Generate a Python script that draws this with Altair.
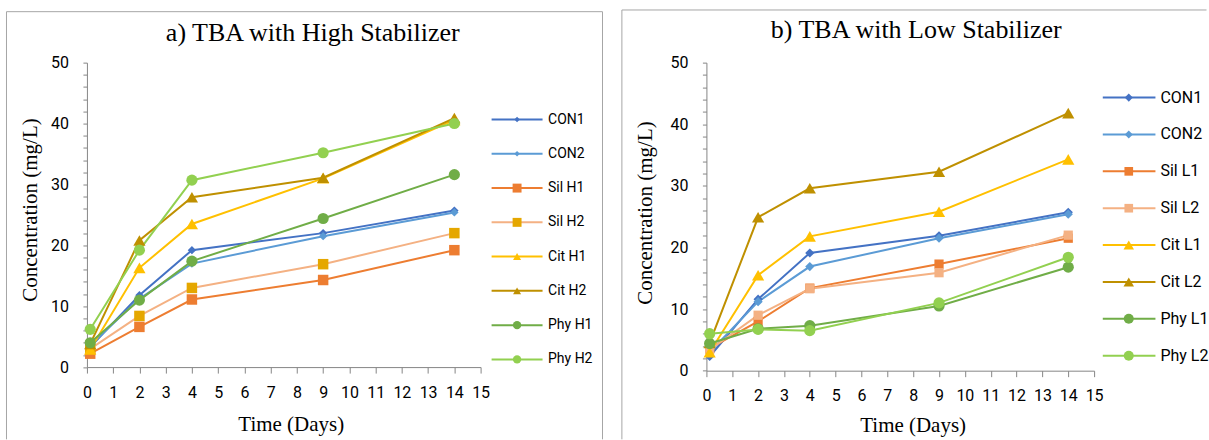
import altair as alt
import pandas as pd

# Sampling days (first sample taken a few hours after dosing)
days = [0.125, 2, 4, 9, 14]

# a) TBA with high stabilizer dose, concentration in mg/L
names_high = ["CON1", "CON2", "Sil H1", "Sil H2", "Cit H1", "Cit H2", "Phy H1", "Phy H2"]
con1_high = [3.3, 11.8, 19.2, 22.0, 25.7]
con2_high = [3.6, 11.2, 17.0, 21.5, 25.4]
sil_h1 = [2.2, 6.6, 11.1, 14.3, 19.2]
sil_h2 = [3.0, 8.4, 13.0, 16.9, 22.0]
cit_h1 = [2.9, 16.3, 23.5, 31.0, 40.6]
cit_h2 = [3.8, 20.8, 27.9, 31.1, 40.9]
phy_h1 = [4.0, 11.0, 17.4, 24.4, 31.6]
phy_h2 = [6.2, 19.2, 30.7, 35.2, 40.0]

# b) TBA with low stabilizer dose, concentration in mg/L
names_low = ["CON1", "CON2", "Sil L1", "Sil L2", "Cit L1", "Cit L2", "Phy L1", "Phy L2"]
con1_low = [2.3, 11.6, 19.1, 21.9, 25.7]
con2_low = [3.0, 11.2, 16.9, 21.5, 25.4]
sil_l1 = [3.6, 8.0, 13.4, 17.3, 21.5]
sil_l2 = [3.4, 9.0, 13.3, 15.9, 22.0]
cit_l1 = [3.0, 15.5, 21.8, 25.8, 34.3]
cit_l2 = [4.5, 24.9, 29.6, 32.3, 41.8]
phy_l1 = [4.4, 6.8, 7.3, 10.5, 16.8]
phy_l2 = [6.0, 6.7, 6.5, 11.0, 18.4]

x_ticks = list(range(0, 16))
y_ticks = list(range(0, 51, 2))

# Styling per series (same order as the names lists)
line_colors = ["#4472C4", "#5B9BD5", "#ED7D31", "#F4B183", "#FFC000", "#BF9000", "#70AD47", "#92D050"]
marker_colors_high = ["#4472C4", "#5B9BD5", "#ED7D31", "#E5A700", "#FFC000", "#BF9000", "#70AD47", "#92D050"]
marker_colors_low = ["#4472C4", "#5B9BD5", "#ED7D31", "#F4B183", "#FFC000", "#BF9000", "#70AD47", "#92D050"]
shapes = ["diamond", "diamond", "square", "square", "triangle-up", "triangle-up", "circle", "circle"]

SERIF = "Liberation Serif"
SANS = "Roboto"
GREY = "#868686"
FRAME = "#a6a6a6"


def long_table(names, columns):
    rows = []
    for name, values in zip(names, columns):
        for d, v in zip(days, values):
            rows.append({"day": d, "conc": v, "series": name})
    return pd.DataFrame(rows)


def edge(x0, x1, y0, y1):
    """A single straight border line of the panel frame."""
    enc = {"x": alt.value(x0), "y": alt.value(y0)}
    if x1 != x0:
        enc["x2"] = alt.value(x1)
    if y1 != y0:
        enc["y2"] = alt.value(y1)
    return alt.Chart(pd.DataFrame({"k": [0]})).mark_rule(color=FRAME, strokeWidth=1).encode(**enc)


def panel(title, names, columns, marker_colors, g):
    df = long_table(names, columns)
    w, h = g["width"], g["height"]

    stroke = alt.Stroke("series:N", scale=alt.Scale(domain=names, range=line_colors), legend=None)
    swidth = alt.StrokeWidth("series:N", scale=alt.Scale(domain=names, range=g["widths"]), legend=None)
    fill = alt.Fill("series:N", scale=alt.Scale(domain=names, range=marker_colors), legend=None)
    shape = alt.Shape("series:N", scale=alt.Scale(domain=names, range=shapes), legend=None)

    x = alt.X(
        "day:Q",
        scale=alt.Scale(domain=[0, 15], nice=False, zero=False),
        axis=alt.Axis(
            values=x_ticks, format="d", grid=False, tickSize=6, labelPadding=11,
            labelFontSize=16, labelOverlap=False, labelFlush=False,
            title="Time (Days)", titleFont=SERIF, titleFontSize=21,
            titleFontWeight="normal", titleColor="#000", titleX=g["xt_x"], titleY=g["xt_y"],
            titleAlign="center", titleBaseline="middle",
        ),
    )
    y = alt.Y(
        "conc:Q",
        scale=alt.Scale(domain=[0, 50], nice=False),
        axis=alt.Axis(
            values=y_ticks, labelExpr="datum.value % 10 === 0 ? datum.label : ''",
            grid=False, tickSize=4, labelPadding=14.5, labelFontSize=16,
            labelOverlap=False, labelFlush=False,
            title="Concentration (mg/L)", titleFont=SERIF, titleFontSize=21,
            titleFontWeight="normal", titleColor="#000", titleAngle=270,
            titleX=g["yt_x"], titleY=g["yt_y"], titleAlign="center", titleBaseline="middle",
        ),
    )

    base = alt.Chart(df)
    lines = base.mark_line(clip=False).encode(x=x, y=y, detail="series:N", stroke=stroke, strokeWidth=swidth)

    # Markers: one layer per marker family (pairs of series share a shape and size)
    groups = [names[i:i + 2] for i in range(0, len(names), 2)]
    point_layers = [
        base.transform_filter(alt.FieldOneOfPredicate(field="series", oneOf=grp))
        .mark_point(filled=True, opacity=1, size=sz)
        .encode(x=x, y=y, fill=fill, shape=shape)
        for grp, sz in zip(groups, g["sizes"])
    ]
    plot = alt.layer(lines, *point_layers)

    # Legend: one row per series, line sample with the marker in its middle
    leg_df = pd.DataFrame({"series": names})
    ly = alt.Y("series:N", scale=alt.Scale(type="point", domain=names, range=g["leg_y"], padding=0), axis=None)
    leg = alt.Chart(leg_df)
    leg_lines = leg.mark_rule().encode(
        x=alt.value(g["leg_x0"]), x2=alt.value(g["leg_x1"]), y=ly, stroke=stroke, strokeWidth=swidth
    )
    leg_marks = [
        leg.transform_filter(alt.FieldOneOfPredicate(field="series", oneOf=grp))
        .mark_point(filled=True, opacity=1, size=sz)
        .encode(x=alt.value(g["leg_xm"]), y=ly, fill=fill, shape=shape)
        for grp, sz in zip(groups, g["leg_sizes"])
    ]
    leg_text = leg.mark_text(align="left", baseline="middle", font=SANS, fontSize=g["leg_font"], color="#000").encode(
        x=alt.value(g["leg_xt"]), y=ly, text="series:N"
    )
    legend = alt.layer(leg_lines, *leg_marks, leg_text)

    heading = alt.Chart(pd.DataFrame({"t": [title]})).mark_text(
        font=SERIF, fontSize=26, align="center", baseline="alphabetic", color="#000"
    ).encode(x=alt.value(g["title_x"]), y=alt.value(g["title_y"]), text="t:N")

    fl, fr, ft, fb = g["frame"]
    frame_parts = [edge(fl, fl, ft, fb), edge(fl, fr, ft, ft)]
    if g["right_edge"]:
        frame_parts.append(edge(fr, fr, ft, fb))

    return (
        alt.layer(*frame_parts, heading, plot, legend)
        .resolve_scale(y="independent")
        .properties(width=w, height=h)
    )


# sizes: diamond, square, triangle, circle
geom_a = dict(
    width=394, height=304.7,
    widths=[2, 2, 2, 2, 2, 2, 2, 2],
    sizes=[70, 110, 150, 125],
    leg_sizes=[30, 80, 65, 70],
    leg_y=[57, 297], leg_x0=405, leg_x1=456, leg_xm=430.5, leg_xt=461.5, leg_font=14,
    xt_x=204, xt_y=57, yt_x=-56, yt_y=147,
    title_x=226, title_y=-22,
    frame=[-80.5, 516, -51, 377], right_edge=True,
)
geom_b = dict(
    width=388, height=308.3,
    widths=[2, 2, 2, 2, 2, 3, 2, 2],
    sizes=[85, 85, 150, 125],
    leg_sizes=[65, 75, 110, 100],
    leg_y=[35, 293.3], leg_x0=396.7, leg_x1=449.4, leg_xm=422.7, leg_xt=454.4, leg_font=16,
    xt_x=206.4, xt_y=55, yt_x=-61, yt_y=150,
    title_x=210, title_y=-25,
    frame=[-84.6, 500.5, -52.7, 377], right_edge=False,
)

chart_a = panel("a) TBA with High Stabilizer", names_high,
                [con1_high, con2_high, sil_h1, sil_h2, cit_h1, cit_h2, phy_h1, phy_h2],
                marker_colors_high, geom_a)
chart_b = panel("b) TBA with Low Stabilizer", names_low,
                [con1_low, con2_low, sil_l1, sil_l2, cit_l1, cit_l2, phy_l1, phy_l2],
                marker_colors_low, geom_b)

chart = (
    alt.hconcat(chart_a, chart_b, spacing=226, bounds="flush")
    .resolve_scale(stroke="independent", fill="independent", shape="independent", strokeWidth="independent")
    .properties(
        padding={"left": 6, "top": 8.5, "right": 0, "bottom": 0},
        background="white",
    )
    .configure_view(stroke=None)
    .configure_axis(
        domainColor=GREY, tickColor=GREY, domainWidth=1, tickWidth=1,
        labelColor="#000", labelFont=SANS,
    )
)

chart.save("out.html", embed_options={"renderer": "svg", "actions": False})
